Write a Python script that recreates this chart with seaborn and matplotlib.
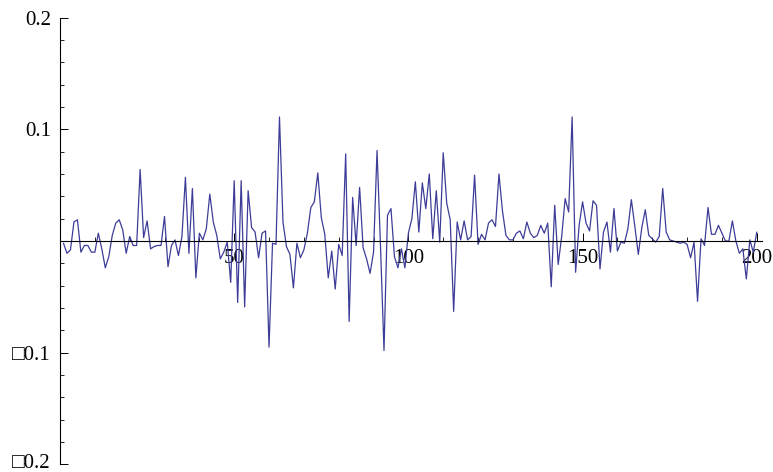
import numpy as np
import pandas as pd
import matplotlib
matplotlib.use("Agg")
import matplotlib.pyplot as plt
import matplotlib.transforms as mtransforms
import seaborn as sns
from matplotlib.ticker import FixedLocator, MultipleLocator

steps = list(range(1, 201))
values = [
    -0.002, -0.011, -0.008, 0.017, 0.019, -0.010, -0.004, -0.004, -0.010, -0.010,
    0.007, -0.007, -0.024, -0.014, 0.005, 0.016, 0.019, 0.010, -0.011, 0.004,
    -0.004, -0.004, 0.064, 0.003, 0.018, -0.007, -0.005, -0.004, -0.004, 0.022,
    -0.023, -0.004, 0.001, -0.013, 0.004, 0.057, -0.011, 0.047, -0.033, 0.007,
    0.001, 0.011, 0.042, 0.017, 0.005, -0.016, -0.010, -0.001, -0.037, 0.054,
    -0.055, 0.054, -0.059, 0.045, 0.012, 0.008, -0.015, 0.007, 0.009, -0.095,
    -0.002, -0.003, 0.111, 0.017, -0.005, -0.012, -0.042, -0.002, -0.015, -0.008,
    0.007, 0.030, 0.035, 0.061, 0.021, 0.006, -0.033, -0.009, -0.043, -0.003,
    -0.013, 0.078, -0.072, 0.039, -0.004, 0.048, -0.006, -0.016, -0.029, -0.010,
    0.081, -0.005, -0.098, 0.023, 0.029, -0.014, -0.024, -0.007, -0.024, 0.007,
    0.020, 0.053, 0.008, 0.052, 0.029, 0.060, 0.002, 0.045, -0.001, 0.079,
    0.034, 0.019, -0.063, 0.017, 0.001, 0.018, 0.001, 0.004, 0.059, -0.003,
    0.006, 0.001, 0.016, 0.019, 0.013, 0.060, 0.027, 0.005, 0.001, 0.001,
    0.007, 0.009, 0.002, 0.017, 0.007, 0.003, 0.005, 0.014, 0.007, 0.016,
    -0.041, 0.032, -0.021, 0.004, 0.038, 0.026, 0.111, -0.028, 0.014, 0.035,
    0.016, 0.009, 0.036, 0.032, -0.025, 0.008, 0.017, -0.010, 0.029, -0.009,
    -0.001, -0.002, 0.011, 0.037, 0.013, -0.012, 0.012, 0.028, 0.005, 0.002,
    -0.001, 0.004, 0.047, 0.008, 0.001, 0.000, -0.001, -0.002, -0.001, -0.003,
    -0.015, -0.001, -0.054, 0.002, -0.004, 0.030, 0.006, 0.006, 0.014, 0.007,
    0.000, 0.000, 0.018, 0.000, -0.011, -0.007, -0.034, 0.001, -0.010, 0.008,
]

x_ticks = [50, 100, 150, 200]
x_tick_labels = ["50", "100", "150", "200"]
y_ticks = [-0.2, -0.1, 0.1, 0.2]
y_tick_labels = ["\u25a10.2", "\u25a10.1", "0.1", "0.2"]

sns.set_style("white")
plt.rcParams["font.family"] = ["Liberation Serif", "DejaVu Sans"]

fig = plt.figure(figsize=(7.73, 4.72), dpi=100)
ax = fig.add_axes([60 / 773, 1 - 464.4 / 472, (762 - 60) / 773, (464.4 - 17.6) / 472])

df = pd.DataFrame({"step": steps, "value": values})
sns.lineplot(data=df, x="step", y="value", ax=ax, color="#3d3d99", linewidth=0.9)

ax.set_xlim(0, 201.5)
ax.set_ylim(-0.2, 0.2)
ax.set_xlabel("")
ax.set_ylabel("")

for s in ["top", "right"]:
    ax.spines[s].set_visible(False)
ax.spines["bottom"].set_position(("data", 0))
ax.spines["left"].set_position(("data", 0))
for s in ["bottom", "left"]:
    ax.spines[s].set_color("black")
    ax.spines[s].set_linewidth(0.8)

ax.xaxis.set_major_locator(FixedLocator(x_ticks))
ax.set_xticklabels(x_tick_labels)
ax.xaxis.set_minor_locator(MultipleLocator(10))
ax.yaxis.set_major_locator(FixedLocator(y_ticks))
ax.set_yticklabels(y_tick_labels)
ax.yaxis.set_minor_locator(MultipleLocator(0.02))

ax.tick_params(axis="both", which="major", direction="in", length=5.8, width=0.7,
               color="black", labelsize=15, labelcolor="black")
ax.tick_params(axis="both", which="minor", direction="in", length=3, width=0.6, color="black")
ax.tick_params(axis="x", which="major", pad=6)
ax.tick_params(axis="y", which="major", pad=6.5)
ax.xaxis.set_ticks_position("bottom")
ax.yaxis.set_ticks_position("left")
ax.grid(False)

# nudge the lowest y label up slightly so it stays inside the canvas
lbl = ax.get_yticklabels()[0]
lbl.set_transform(lbl.get_transform() +
                  mtransforms.ScaledTranslation(0, 3 / 100, fig.dpi_scale_trans))

fig.savefig("out.png", dpi=100, facecolor="white")
